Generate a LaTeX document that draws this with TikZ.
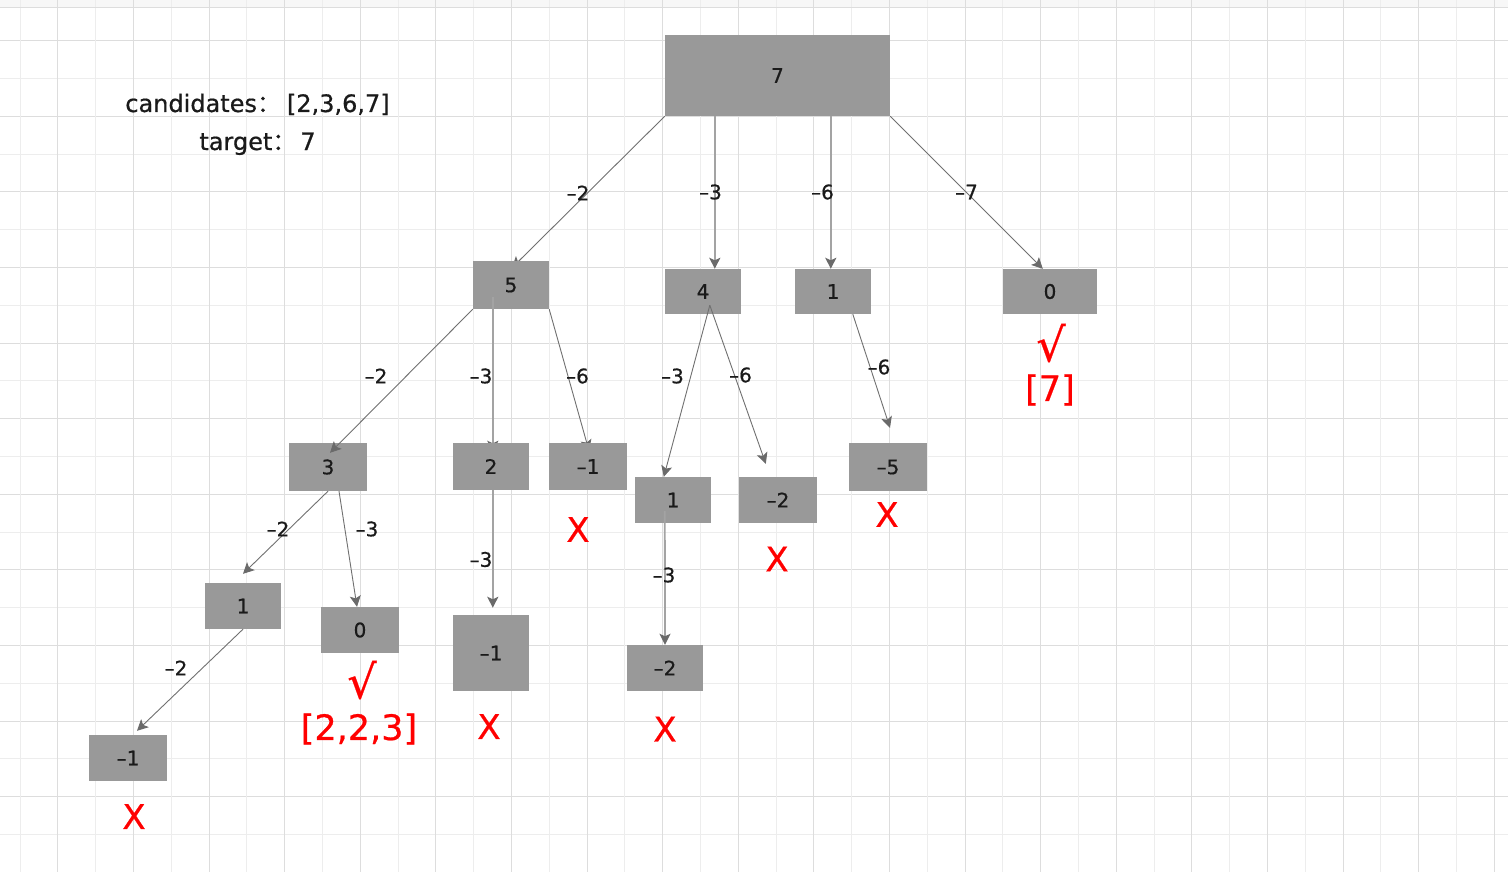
\documentclass[tikz,border=0pt]{standalone}
\usepackage{fontspec}
\setmainfont{DejaVu Sans}[FakeBold=0.6]
\newfontfamily\cjkfont{Noto Sans CJK SC}[FakeBold=0.6]
\usetikzlibrary{arrows.meta,calc}
\definecolor{boxgray}{HTML}{999999}
\definecolor{txt}{HTML}{1A1A1A}
\definecolor{gridA}{HTML}{EDEDED}
\definecolor{gridB}{HTML}{DDDDDD}
\definecolor{edgeD}{HTML}{707070}
\definecolor{edgeL}{HTML}{A3A3A3}
\definecolor{headC}{HTML}{6A6A6A}
\definecolor{markred}{HTML}{FF0000}
\definecolor{stripC}{HTML}{F7F7F7}
\pgfdeclarelayer{gridlayer}
\pgfdeclarelayer{LA}\pgfdeclarelayer{LB}\pgfdeclarelayer{LC}\pgfdeclarelayer{LD}
\pgfdeclarelayer{LE}\pgfdeclarelayer{LF}\pgfdeclarelayer{LG}\pgfdeclarelayer{LH}\pgfdeclarelayer{LI}
\pgfsetlayers{gridlayer,LA,LB,LC,LD,LE,LF,LG,LH,LI,main}
\tikzset{
  box/.style={rectangle, fill=boxgray, draw=none, inner sep=0pt, text=txt, font=\fontsize{20}{24}\selectfont},
  elab/.style={inner sep=0pt, text=txt, font=\fontsize{20}{24}\selectfont},
  infotext/.style={inner sep=0pt, text=txt, font=\fontsize{24}{28}\selectfont, anchor=base},
  redx/.style={inner sep=0pt, text=markred, font=\fontsize{34}{40}\selectfont},
  redok/.style={inner sep=0pt, text=markred, font=\fontsize{46}{50}\selectfont},
  redt/.style={inner sep=0pt, text=markred, font=\fontsize{35}{40}\selectfont},
  tipp/.style={-{Stealth[length=11pt,width=11pt,inset=2.5pt,color=headC]}},
  edgethin/.style={tipp, draw=edgeD, line width=0.9pt},
  edgev/.style={tipp, draw=edgeL, line width=1.8pt},
}
\begin{document}
\begin{tikzpicture}[x=1pt,y=-1pt]
\useasboundingbox (0,0) rectangle (1508,872);
\begin{pgfonlayer}{gridlayer}
\fill[white] (0,0) rectangle (1508,872);
\fill[stripC] (0,0) rectangle (1508,7.5);
\foreach \m in {0,...,22}{
  \pgfmathsetmacro\yy{40.7+37.8*\m}
  \ifodd\m \draw[gridA, line width=1pt] (0,\yy) -- (1508,\yy);
  \else \draw[gridB, line width=1pt] (0,\yy) -- (1508,\yy); \fi
}
\foreach \k in {0,...,39}{
  \pgfmathsetmacro\xx{20+37.8*\k}
  \ifodd\k \draw[gridB, line width=1pt] (\xx,0) -- (\xx,872);
  \else \draw[gridA, line width=1pt] (\xx,0) -- (\xx,872); \fi
}
\draw[gridB, line width=1.5pt] (0,7.5) -- (1508,7.5);
\end{pgfonlayer}

% info text
\node[infotext] (info1) at (257.5,112) {candidates{\cjkfont ：}\hspace{6pt}[2,3,6,7]};
\node[infotext] (info2) at (257.5,150) {target{\cjkfont ：}\hspace{4pt}7};

% ---------- nodes ----------
\begin{pgfonlayer}{LA}
\node[box, minimum width=225pt, minimum height=81pt] (r7) at (777.5,75.5) {7};
\end{pgfonlayer}
\begin{pgfonlayer}{LC}
\node[box, minimum width=76pt, minimum height=48pt] (n5) at (511,285) {5};
\node[box, minimum width=76pt, minimum height=45pt] (n4) at (703,291.5) {4};
\node[box, minimum width=76pt, minimum height=45pt] (n1) at (833,291.5) {1};
\node[box, minimum width=94pt, minimum height=45pt] (n0) at (1050,291.5) {0};
\node[box, minimum width=78pt, minimum height=48pt] (n3) at (328,467) {3};
\end{pgfonlayer}
\begin{pgfonlayer}{LE}
\node[box, minimum width=76pt, minimum height=47pt] (n2) at (491,466.5) {2};
\node[box, minimum width=78pt, minimum height=47pt] (nm1) at (588,466.5) {–1};
\node[box, minimum width=76pt, minimum height=46pt] (n1b) at (673,500) {1};
\node[box, minimum width=78pt, minimum height=46pt] (nm2) at (778,500) {–2};
\node[box, minimum width=78pt, minimum height=48pt] (nm5) at (888,467) {–5};
\end{pgfonlayer}
\begin{pgfonlayer}{LG}
\node[box, minimum width=76pt, minimum height=46pt] (n1c) at (243,606) {1};
\node[box, minimum width=78pt, minimum height=46pt] (n0c) at (360,630) {0};
\node[box, minimum width=76pt, minimum height=76pt] (nm1d) at (491,653) {–1};
\node[box, minimum width=76pt, minimum height=46pt] (nm2d) at (665,668) {–2};
\end{pgfonlayer}
\begin{pgfonlayer}{LI}
\node[box, minimum width=78pt, minimum height=46pt] (nm1c) at (128,758) {–1};
\end{pgfonlayer}

% ---------- edges ----------
\begin{pgfonlayer}{LB}
\draw[edgethin] (r7.south west) -- ($(n5.north)+(1,7)$);
\draw[edgev] ($(r7.south west)+(50,0)$) -- ($(n4.north west)+(50,0)$);
\draw[edgev] ($(r7.south west)+(166,0)$) -- ($(n1.north west)+(36,0)$);
\draw[edgethin] (r7.south east) -- ($(n0.north west)+(40,0)$);
\end{pgfonlayer}
\begin{pgfonlayer}{LD}
\draw[edgethin] (n5.south west) -- ($(n3.north)+(2,10)$);
\draw[edgev] ($(n5.south west)+(20,-12)$) -- ($(n2.north west)+(40,9)$);
\draw[edgethin] (n5.south east) -- ($(nm1.north)+(1,8)$);
\draw[edgethin] ($(n4.south west)+(45,-9)$) -- ($(n1b.north west)+(29,0)$);
\draw[edgethin] ($(n4.south west)+(45,-9)$) -- ($(nm2.north west)+(27,-13)$);
\draw[edgethin] ($(n1.south west)+(58,0)$) -- ($(nm5.north)+(2,-15)$);
\end{pgfonlayer}
\begin{pgfonlayer}{LF}
\draw[edgethin] (n3.south) -- ($(n1c.north)+(0,-9)$);
\draw[edgethin] ($(n3.south)+(11,0)$) -- ($(n0c.north)+(-3,0)$);
\draw[edgev] ($(n2.south west)+(40,0)$) -- ($(nm1d.north west)+(40,-7)$);
\end{pgfonlayer}
\begin{pgfonlayer}{LH}
\draw[edgev] ($(n1b.south west)+(30,-12)$) -- (nm2d.north);
\draw[edgethin] (n1c.south) -- ($(nm1c.north)+(9,-4)$);
\end{pgfonlayer}

% ---------- edge labels ----------
\node[elab] (l1) at (578,193) {–2};
\node[elab] (l2) at (710.5,192) {–3};
\node[elab] (l3) at (822.5,192) {–6};
\node[elab] (l4) at (966.5,192) {–7};
\node[elab] (l5) at (376,376) {–2};
\node[elab] (l6) at (481,376) {–3};
\node[elab] (l7) at (577.5,376) {–6};
\node[elab] (l8) at (672.5,376) {–3};
\node[elab] (l9) at (740.5,375) {–6};
\node[elab] (l10) at (879,367) {–6};
\node[elab] (l11) at (278,529) {–2};
\node[elab] (l12) at (367,529) {–3};
\node[elab] (l13) at (481,559.5) {–3};
\node[elab] (l14) at (664,575) {–3};
\node[elab] (l15) at (176,668) {–2};

% ---------- result marks ----------
\node[redok] (ok1) at (1051,343) {√};
\node[redt] (res1) at (1050,390) {[7]};
\node[redok] (ok2) at (362,680) {√};
\node[redt] (res2) at (359,729) {[2,2,3]};
\node[redx] (x1) at (887,514.5) {X};
\node[redx] (x2) at (777,559) {X};
\node[redx] (x3) at (578,529.5) {X};
\node[redx] (x4) at (489,726.5) {X};
\node[redx] (x5) at (665,729) {X};
\node[redx] (x6) at (134,816.5) {X};
\end{tikzpicture}
\end{document}
